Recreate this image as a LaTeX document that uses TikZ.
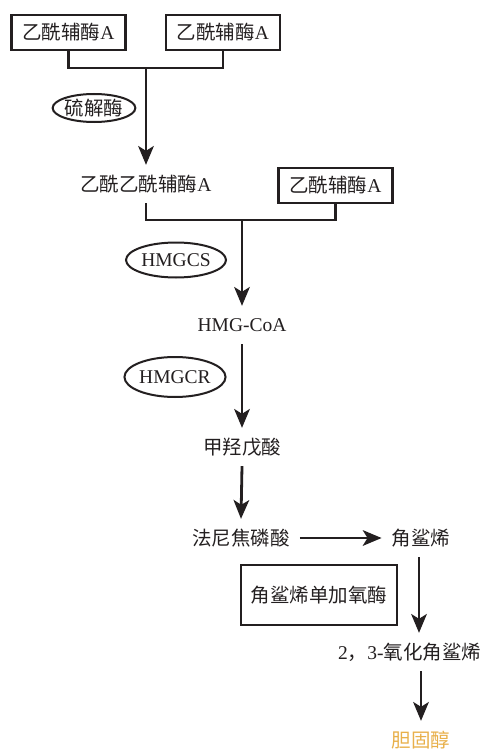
\documentclass[tikz,border=0pt]{standalone}
\usepackage{fontspec}
\setmainfont{Liberation Serif}
\newfontfamily\cjk{Noto Sans CJK SC}
\usetikzlibrary{arrows.meta,shapes.geometric}
\definecolor{ink}{HTML}{231F20}
\definecolor{gold}{HTML}{E8B04A}
\tikzset{
  txt/.style={inner xsep=10pt, minimum height=38pt, text=ink, font=\fontsize{19.5}{23}\selectfont},
  molbox/.style={txt, draw=ink, line width=2.2pt, minimum width=114pt, minimum height=35pt, inner sep=0pt},
  enzbox/.style={txt, draw=ink, line width=2.2pt, minimum width=156pt, minimum height=60pt, inner sep=0pt},
  enz/.style={txt, ellipse, draw=ink, line width=2pt, inner sep=0pt},
  link/.style={draw=ink, line width=2.4pt},
  flow/.style={draw=ink, line width=2.8pt, -{Stealth[length=19pt,width=16pt,inset=5pt,line width=0pt]}}
}
\begin{document}
\begin{tikzpicture}[x=1pt, y=-1pt]
      \useasboundingbox (0,0) rectangle (483,749);

      % Draw the two starting molecules
      \node[molbox] at (68.5,32.5) (acoa1) {{\cjk 乙酰辅酶}A};
      \node[molbox] at (223,32.5) (acoa2) {{\cjk 乙酰辅酶}A};
      \coordinate (m1) at (146,68);
      \draw[link] (acoa1.south) |- (m1) -| (acoa2.south);

      % Draw the thiolase step
      \node[enz, minimum width=82pt, minimum height=28pt] at (94,108) (thl) {\cjk 硫解酶};
      \node[txt] at (146,184) (acac) {{\cjk 乙酰乙酰辅酶}A};
      \draw[flow] (m1) -- (acac.north);

      % Draw the HMGCS step
      \node[molbox] at (335.5,185.5) (acoa3) {{\cjk 乙酰辅酶}A};
      \coordinate (m2) at (242,220);
      \draw[link] (acac.south) |- (m2) -| (acoa3.south);
      \node[enz, minimum width=100pt, minimum height=35pt] at (176,260) (hmgcs) {HMGCS};
      \node[txt] at (242,325) (hmg) {HMG-CoA};
      \draw[flow] (m2) -- (hmg.north);

      % Draw the HMGCR step
      \node[enz, minimum width=98pt, minimum height=40pt] at (175,377) (hmgcr) {HMGCR};
      \node[txt] at (242,447) (mva) {\cjk 甲羟戊酸};
      \draw[flow] (hmg.south) -- (mva.north);

      % Draw the farnesyl pyrophosphate and squalene
      \node[txt] at (241,538) (fpp) {\cjk 法尼焦磷酸};
      \draw[flow] (mva.south) -- (fpp.north);
      \node[txt] at (421,538) (sq) {\cjk 角鲨烯};
      \draw[flow] (fpp.east) -- (sq.west);

      % Draw the squalene epoxidase step
      \node[enzbox] at (319,595) (sqle) {\cjk 角鲨烯单加氧酶};
      \node[txt] at (409.5,652) (oxsq) {2{\cjk ，}3-{\cjk 氧化角鲨烯}};
      \draw[flow] ([xshift=-2pt]sq.south) -- ([xshift=-2pt]sq.south |- oxsq.north);

      % Draw the output
      \node[txt, text=gold] at (421,740) (chol) {\cjk 胆固醇};
      \draw[flow] (oxsq.south -| chol.north) -- (chol.north);
\end{tikzpicture}
\end{document}
